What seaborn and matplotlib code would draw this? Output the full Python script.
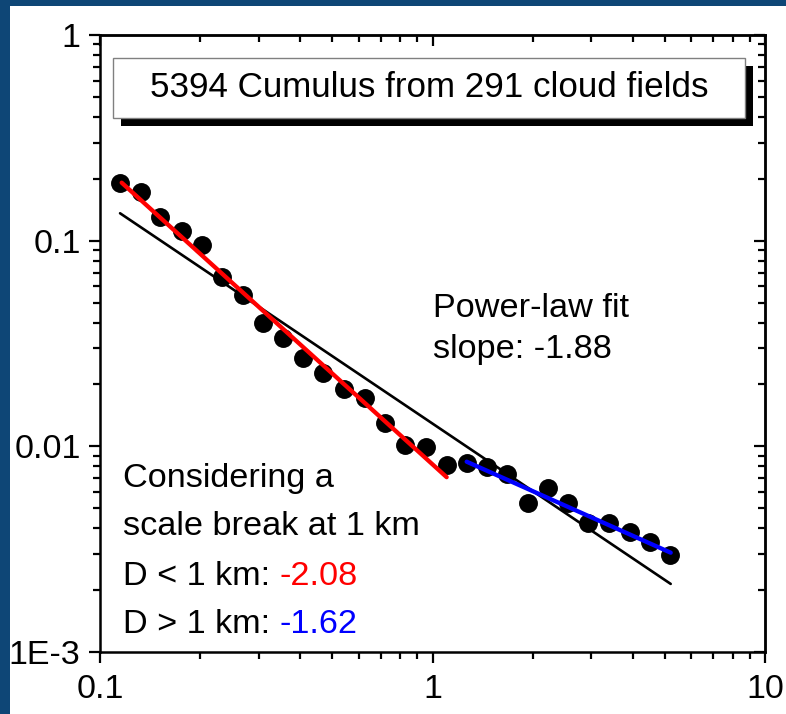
import matplotlib
matplotlib.use("Agg")
import matplotlib.pyplot as plt
from matplotlib.patches import Rectangle
from matplotlib.ticker import FixedLocator, FixedFormatter, LogLocator, NullFormatter
import pandas as pd
import seaborn as sns

# Cloud size (km) and normalized frequency for the cumulus sample
size_km = [0.115, 0.133, 0.152, 0.176, 0.202, 0.232, 0.269, 0.309, 0.354, 0.409,
           0.469, 0.542, 0.627, 0.720, 0.827, 0.956, 1.103, 1.267, 1.462, 1.679,
           1.933, 2.221, 2.561, 2.942, 3.402, 3.926, 4.510, 5.180]
frequency = [0.190, 0.172, 0.131, 0.111, 0.0953, 0.0664, 0.0545, 0.0399, 0.0335, 0.0268,
             0.0228, 0.01895, 0.01713, 0.01295, 0.01016, 0.00997, 0.00812, 0.00833, 0.00796, 0.00734,
             0.00529, 0.00626, 0.00529, 0.00423, 0.00426, 0.00385, 0.00344, 0.00296]

# Fitted power laws (end points of each fit segment)
fit_all_x = [0.1149, 5.205]
fit_all_y = [0.1359, 0.002143]
fit_small_x = [0.1162, 1.103]
fit_small_y = [0.1914, 0.00708]
fit_large_x = [1.267, 5.205]
fit_large_y = [0.00842, 0.00304]

# Axis ticks
xtick_values = [0.1, 1, 10]
xtick_labels = ["0.1", "1", "10"]
ytick_values = [1e-3, 1e-2, 1e-1, 1]
ytick_labels = ["1E-3", "0.01", "0.1", "1"]

title_text = "5394 Cumulus from 291 cloud fields"
fit_lines = ["Power-law fit", "slope: -1.88"]
break_lines = ["Considering a", "scale break at 1 km"]
small_label, small_slope = "D < 1 km: ", "-2.08"
large_label, large_slope = "D > 1 km: ", "-1.62"

sns.set_theme(style="ticks")
plt.rcParams["font.family"] = ["Liberation Sans", "DejaVu Sans"]

W, H = 786, 714
fig = plt.figure(figsize=(W / 100, H / 100), dpi=100, facecolor="#0E4676")
# white page area behind the plot
page = Rectangle((10 / W, 0), 1 - 10 / W, 1 - 6 / H, transform=fig.transFigure,
                 facecolor="white", edgecolor="none", zorder=-10)
fig.patches.append(page)

ax_l, ax_r, ax_t, ax_b = 100, 765, 35, 652
ax = fig.add_axes([ax_l / W, 1 - ax_b / H, (ax_r - ax_l) / W, (ax_b - ax_t) / H])
ax.set_zorder(1)
ax.set_facecolor("white")
ax.set_xscale("log")
ax.set_yscale("log")

pts = pd.DataFrame({"size": size_km, "freq": frequency})
sns.lineplot(x=fit_all_x, y=fit_all_y, color="black", linewidth=1.9, ax=ax, zorder=2)
sns.scatterplot(data=pts, x="size", y="freq", color="black", s=185, linewidth=0, ax=ax, zorder=3)
sns.lineplot(x=fit_small_x, y=fit_small_y, color="#FF0000", linewidth=3.1, ax=ax, zorder=4)
sns.lineplot(x=fit_large_x, y=fit_large_y, color="#0000FF", linewidth=3.1, ax=ax, zorder=4)
ax.set_xlim(0.1, 10)
ax.set_ylim(1e-3, 1)
ax.set_xlabel("")
ax.set_ylabel("")

for sp in ax.spines.values():
    sp.set_color("black")
    sp.set_linewidth(1.8)

ax.xaxis.set_major_locator(FixedLocator(xtick_values))
ax.xaxis.set_major_formatter(FixedFormatter(xtick_labels))
ax.yaxis.set_major_locator(FixedLocator(ytick_values))
ax.yaxis.set_major_formatter(FixedFormatter(ytick_labels))
for axis in (ax.xaxis, ax.yaxis):
    axis.set_minor_locator(LogLocator(base=10, subs=range(2, 10)))
    axis.set_minor_formatter(NullFormatter())
ax.tick_params(which="both", direction="out", color="black", width=1.6,
               top=False, right=False, labelsize=24.5, labelcolor="black")
ax.tick_params(which="major", length=8)
ax.tick_params(which="minor", length=4.8)
ax.tick_params(axis="x", which="major", pad=8)
ax.tick_params(axis="y", which="major", pad=6)

# mirrored ticks on top and right, pointing into the plot
top = ax.secondary_xaxis("top")
right = ax.secondary_yaxis("right")
for sec, axis, vals in ((top, top.xaxis, xtick_values), (right, right.yaxis, ytick_values)):
    axis.set_major_locator(FixedLocator(vals))
    axis.set_minor_locator(LogLocator(base=10, subs=range(2, 10)))
    axis.set_major_formatter(NullFormatter())
    axis.set_minor_formatter(NullFormatter())
    sec.tick_params(which="both", direction="in", color="black", width=1.6)
    sec.tick_params(which="major", length=8)
    sec.tick_params(which="minor", length=4.8)
    for sp in sec.spines.values():
        sp.set_linewidth(1.8)


def axfrac(px, py):
    return (px - ax_l) / (ax_r - ax_l), (ax_b - py) / (ax_b - ax_t)


# title box with drop shadow
bx0, by0, bx1, by1 = 113, 58, 745, 118
sh = 8
x0, y0 = axfrac(bx0 + sh, by1 + sh)
x1, y1 = axfrac(bx1 + sh, by0 + sh)
ax.add_patch(Rectangle((x0, y0), x1 - x0, y1 - y0, transform=ax.transAxes,
                       facecolor="black", edgecolor="none", zorder=5))
x0, y0 = axfrac(bx0, by1)
x1, y1 = axfrac(bx1, by0)
ax.add_patch(Rectangle((x0, y0), x1 - x0, y1 - y0, transform=ax.transAxes,
                       facecolor="white", edgecolor="#808080", linewidth=1.0, zorder=6))
tx, ty = axfrac(429, 97)
ax.text(tx, ty, title_text, transform=ax.transAxes, ha="center", va="baseline",
        fontsize=25.2, color="black", zorder=7)

fs = 24.7
for txt, py in zip(fit_lines, [317, 358]):
    tx, ty = axfrac(433, py)
    ax.text(tx, ty, txt, transform=ax.transAxes, ha="left", va="baseline",
            fontsize=fs, color="black", zorder=7)
for txt, py in zip(break_lines, [487, 535]):
    tx, ty = axfrac(123, py)
    ax.text(tx, ty, txt, transform=ax.transAxes, ha="left", va="baseline",
            fontsize=fs, color="black", zorder=7)
for lab, val, col, py in ((small_label, small_slope, "#FF0000", 585),
                          (large_label, large_slope, "#0000FF", 633)):
    tx, ty = axfrac(123, py)
    t = ax.text(tx, ty, lab, transform=ax.transAxes, ha="left", va="baseline",
                fontsize=fs, color="black", zorder=7)
    ax.annotate(val, xy=(1, 0), xycoords=t, ha="left", va="bottom",
                fontsize=fs, color=col, zorder=7)

fig.savefig("out.png", dpi=100, facecolor=fig.get_facecolor())
